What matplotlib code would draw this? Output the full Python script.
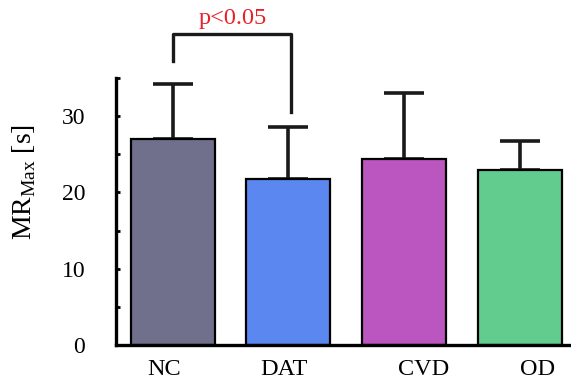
import matplotlib

matplotlib.use("Agg")
import matplotlib.pyplot as plt
import numpy as np

groups = ["NC", "DAT", "CVD", "OD"]
means = [27.0, 21.8, 24.4, 22.9]
sds = [7.2, 6.8, 8.6, 3.8]
colors = ["#70708c", "#5a87f0", "#bb55c0", "#62cb8e"]
label_shift = [-0.07, -0.04, 0.17, 0.15]  # tick labels sit a bit off-centre in the original
sig_text = "p<0.05"

plt.rcParams["font.family"] = ["Liberation Serif", "DejaVu Serif"]
plt.rcParams["mathtext.fontset"] = "custom"
plt.rcParams["mathtext.rm"] = "Liberation Serif"

fig = plt.figure(figsize=(5.71, 3.81), dpi=100)
ax = fig.add_axes([0.203, 0.0945, 0.797, 0.7005])

x = np.arange(len(groups))
ax.bar(x, means, width=0.725, color=colors, edgecolor="black", linewidth=1.6, zorder=2)
ax.errorbar(x, means, yerr=[np.zeros(len(sds)), sds], fmt="none", ecolor="#1a1a1a",
            elinewidth=2.6, capsize=14.5, capthick=2.6, zorder=1)

ax.set_xlim(-0.49, 3.44)
ax.set_ylim(0, 35)
ax.set_yticks(np.arange(0, 36, 5))
ax.set_yticklabels([str(v) if v % 10 == 0 else "" for v in range(0, 36, 5)])
ax.set_xticks(x + np.array(label_shift))
ax.set_xticklabels(groups)
ax.tick_params(axis="y", direction="in", length=3, width=2, pad=22, labelsize=17)
ax.tick_params(axis="x", length=0, pad=10, labelsize=17.5)

for s in ("top", "right"):
    ax.spines[s].set_visible(False)
ax.spines["left"].set_linewidth(2.4)
ax.spines["bottom"].set_linewidth(2.4)

# y label sits higher than the axes centre in the original
fig.text(0.042, 0.522, r"$\mathrm{MR}_{\mathrm{Max}}$ [s]", fontsize=20,
         rotation=90, ha="center", va="center")

# significance bracket NC vs DAT
ax.plot([x[0], x[0], x[1] + 0.025, x[1] + 0.025], [37.2, 40.8, 40.8, 30.5],
        color="#1a1a1a", lw=2.4, clip_on=False)
ax.text((x[0] + x[1]) / 2 + 0.02, 41.4, sig_text, color="#e8202a", fontsize=17.5,
        ha="center", va="bottom", clip_on=False)

fig.savefig("out.png", dpi=100)
